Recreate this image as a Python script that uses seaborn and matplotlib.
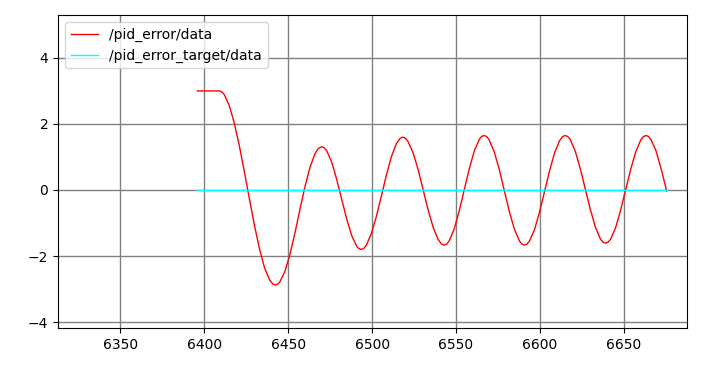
import numpy as np
import pandas as pd
import matplotlib
matplotlib.use('Agg')
import matplotlib.pyplot as plt
import seaborn as sns

# values
err_t = [6396, 6400, 6404, 6409, 6410.5, 6412, 6415, 6418, 6421, 6424, 6427, 6430, 6433, 6436, 6439,
         6441, 6442.5, 6444,
         6445, 6448, 6451, 6454, 6457, 6460, 6463, 6466, 6468, 6470, 6471.5,
         6473, 6476, 6479, 6482, 6485, 6488, 6491, 6492, 6493.5, 6495,
         6496.5, 6499.5, 6502.5, 6505.5, 6508.5, 6511.5, 6514.5, 6516.8, 6518.3, 6519.8,
         6521.3, 6524.3, 6527.3, 6530.3, 6533.3, 6536.3, 6539.3, 6541.4, 6542.9, 6544.4,
         6545.9, 6548.9, 6551.9, 6554.9, 6557.9, 6560.9, 6563.9, 6565.2, 6566.7, 6568.2,
         6569.7, 6572.7, 6575.7, 6578.7, 6581.7, 6584.7, 6587.7, 6589.2, 6590.7, 6592.2,
         6593.7, 6596.7, 6599.7, 6602.7, 6605.7, 6608.7, 6611.7, 6613.5, 6615, 6616.5,
         6618, 6621, 6624, 6627, 6630, 6633, 6636, 6637.5, 6639, 6640.5,
         6642, 6645, 6648, 6651, 6654, 6657, 6660, 6661.6, 6663.1, 6664.6,
         6666, 6669, 6672, 6675.4]
err_v = [3.0, 3.0, 3.0, 3.0, 2.97, 2.89, 2.55, 2.02, 1.33, 0.54, -0.28, -1.08, -1.79, -2.36, -2.73,
         -2.85, -2.88, -2.84,
         -2.79, -2.48, -1.97, -1.32, -0.60, 0.09, 0.68, 1.10, 1.26, 1.31, 1.28,
         1.19, 0.84, 0.31, -0.30, -0.90, -1.40, -1.72, -1.77, -1.80, -1.77,
         -1.68, -1.33, -0.81, -0.19, 0.45, 1.01, 1.41, 1.57, 1.60, 1.57,
         1.48, 1.14, 0.64, 0.03, -0.59, -1.12, -1.50, -1.64, -1.67, -1.64,
         -1.54, -1.18, -0.63, 0.01, 0.65, 1.19, 1.54, 1.62, 1.65, 1.62,
         1.52, 1.16, 0.63, -0.01, -0.65, -1.18, -1.54, -1.64, -1.67, -1.64,
         -1.55, -1.20, -0.67, -0.04, 0.59, 1.13, 1.50, 1.62, 1.65, 1.62,
         1.53, 1.17, 0.64, 0.02, -0.60, -1.13, -1.49, -1.58, -1.61, -1.58,
         -1.49, -1.14, -0.61, 0.01, 0.63, 1.16, 1.52, 1.62, 1.65, 1.62,
         1.53, 1.19, 0.66, -0.03]
target_t = [6396, 6675.4]
target_v = [0.0, 0.0]

df_err = pd.DataFrame({'t': err_t, 'v': err_v})
df_tgt = pd.DataFrame({'t': target_t, 'v': target_v})

fig = plt.figure(figsize=(7.02, 3.67), dpi=100)
ax = fig.add_axes([58 / 702, 1 - 328 / 367, (687 - 58) / 702, (328 - 15) / 367])

sns.lineplot(data=df_err, x='t', y='v', ax=ax, color='red', linewidth=1,
             sort=False, estimator=None, label='/pid_error/data')
sns.lineplot(data=df_tgt, x='t', y='v', ax=ax, color='cyan', linewidth=1,
             sort=False, estimator=None, label='/pid_error_target/data')

ax.set_xlim(6313, 6687.5)
ax.set_ylim(-4.18, 5.30)
ax.set_xticks([6350, 6400, 6450, 6500, 6550, 6600, 6650])
ax.set_yticks([-4, -2, 0, 2, 4])
ax.set_xlabel('')
ax.set_ylabel('')
ax.grid(True, color='gray', linewidth=1)
ax.legend(loc='upper left', fontsize=10)

fig.savefig('out.png', dpi=100)
